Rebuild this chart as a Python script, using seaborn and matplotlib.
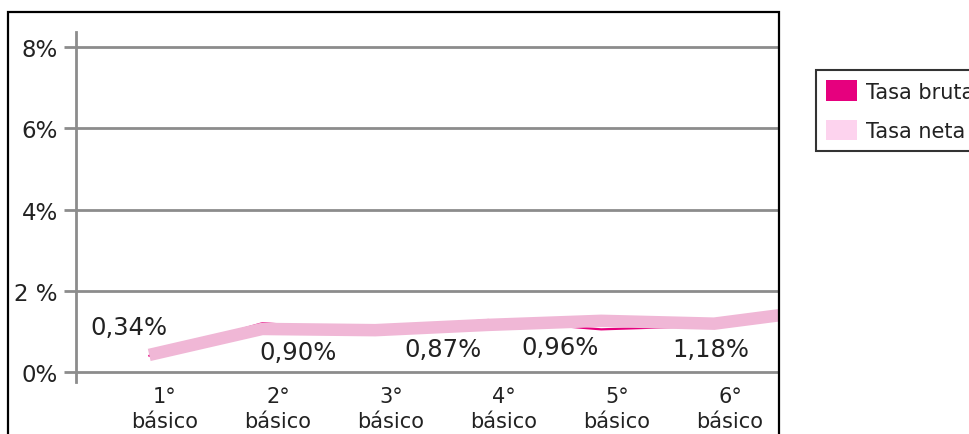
import numpy as np
import pandas as pd
import matplotlib
matplotlib.use("Agg")
import matplotlib.pyplot as plt
from matplotlib.patches import Patch, Rectangle
import seaborn as sns

# --- data ---
cursos = ["1°\nbásico", "2°\nbásico", "3°\nbásico", "4°\nbásico", "5°\nbásico", "6°\nbásico"]
# the last point of each series lies beyond the clipped right edge
tasa_bruta = [0.40, 1.20, 1.03, 1.28, 1.05, 1.14, 1.55]
tasa_neta = [0.42, 1.06, 1.03, 1.16, 1.26, 1.19, 1.55]
etiquetas = ["0,34%", "0,90%", "0,87%", "0,96%", "1,18%"]
etiqueta_x = [-0.32, 1.18, 2.46, 3.50, 4.83]
etiqueta_y = [1.11, 0.49, 0.57, 0.62, 0.57]
yticks = [0, 2, 4, 6, 8]
ytick_labels = ["0%", "2 %", "4%", "6%", "8%"]

color_bruta = "#e6007e"
color_neta = "#f0b7d6"
color_neta_leyenda = "#fdd3ee"
gris = "#8c8c8c"
texto = "#222222"

sns.set_style("white")
plt.rcParams["font.family"] = ["DejaVu Sans"]

fig = plt.figure(figsize=(9.69, 4.35), dpi=100)
W, H = 969, 435
ax = fig.add_axes([76 / W, 1 - 383 / H, (779 - 76) / W, (383 - 33) / H])

shift = -0.14  # lines sit slightly left of the category labels
df = pd.DataFrame({
    "x": np.arange(len(tasa_neta)) + shift,
    "bruta": tasa_bruta,
    "neta": tasa_neta,
})
sns.lineplot(data=df, x="x", y="bruta", ax=ax, color=color_bruta, linewidth=1.6, sort=False, zorder=3)
sns.lineplot(data=df, x="x", y="neta", ax=ax, color=color_neta, linewidth=9, sort=False,
             zorder=4, solid_capstyle="butt", solid_joinstyle="miter")

for t, x, y in zip(etiquetas, etiqueta_x, etiqueta_y):
    ax.text(x, y, t, ha="center", va="center", fontsize=17.5, color=texto, zorder=5)

ax.set_xlim(-0.788, 5.434)
ax.set_ylim(-0.246, 8.37)
ax.set_yticks(yticks)
ax.set_yticklabels(ytick_labels, fontsize=16.5, color=texto)
ax.set_xticks(range(len(cursos)))
ax.set_xticklabels(cursos, fontsize=15, color=texto, linespacing=1.3)
ax.tick_params(axis="x", length=0, pad=3)
ax.tick_params(axis="y", length=9, width=2, color=gris, pad=4, left=True)
ax.set_xlabel("")
ax.set_ylabel("")
ax.grid(axis="y", color=gris, linewidth=2)
ax.grid(axis="x", visible=False)
for s in ["top", "right", "bottom"]:
    ax.spines[s].set_visible(False)
ax.spines["left"].set_color(gris)
ax.spines["left"].set_linewidth(2)

# outer frame (bottom edge falls outside the image)
fig.patches.append(Rectangle((8 / W, -0.2), (779 - 8) / W, 1.2 - 13 / H,
                             transform=fig.transFigure, fill=False,
                             edgecolor="black", linewidth=1.6, zorder=10))

handles = [Patch(facecolor=color_bruta, edgecolor="none"),
           Patch(facecolor=color_neta_leyenda, edgecolor="none")]
leg = fig.legend(handles, ["Tasa bruta", "Tasa neta"], loc="upper left",
                 bbox_to_anchor=(816 / W, 1 - 71 / H), fontsize=15,
                 frameon=True, fancybox=False, edgecolor="black",
                 handlelength=1.45, handleheight=1.15, handletextpad=0.45,
                 labelspacing=0.85, borderpad=0.5, borderaxespad=0)
leg.get_frame().set_linewidth(1.5)
for t in leg.get_texts():
    t.set_color(texto)

fig.savefig("out.png", dpi=100)
